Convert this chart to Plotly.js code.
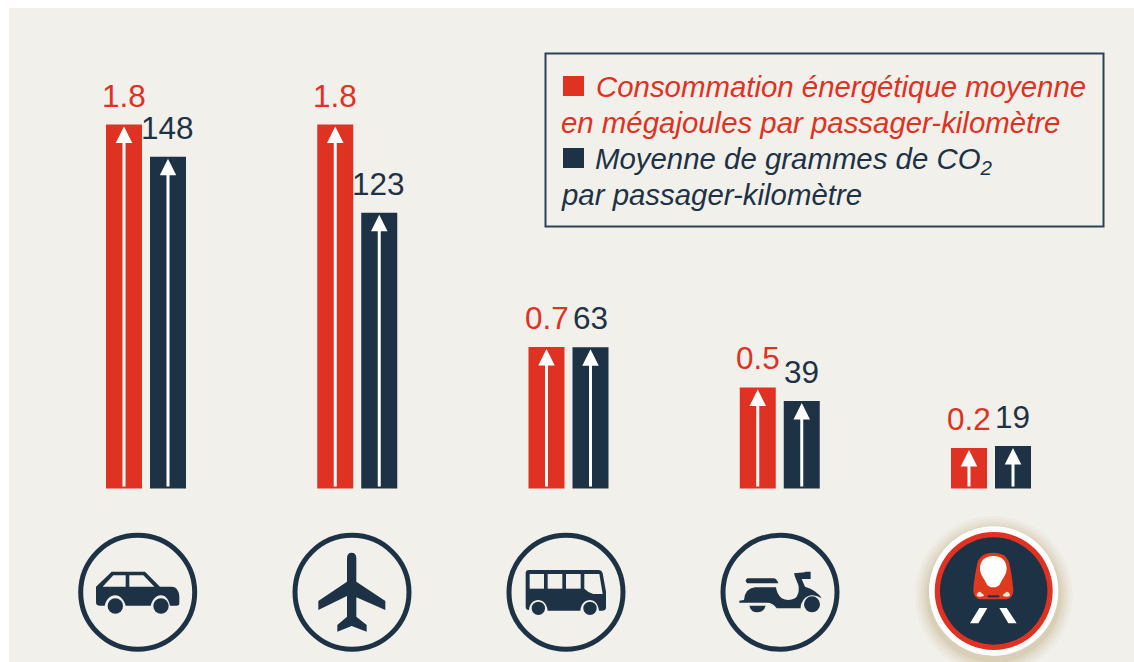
<!DOCTYPE html>
<html>
<head>
<meta charset="utf-8">
<script src="https://cdn.plot.ly/plotly-3.0.1.min.js"></script>
<style>html,body{margin:0;padding:0;background:#fff}#chart{width:1134px;height:662px}</style>
</head>
<body>
<div id="chart"></div>
<script>
const categories = ['Voiture', 'Avion', 'Bus', 'Scooter', 'Train'];
const energyValues = [1.8, 1.8, 0.7, 0.5, 0.2];
const co2Values = [148, 123, 63, 39, 19];
const energyLabels = ['1.8', '1.8', '0.7', '0.5', '0.2'];
const co2Labels = ['148', '123', '63', '39', '19'];
const legendLines = [
  {text: '<i>Consommation énergétique moyenne</i>', px: 594, py: 87, c: 'red'},
  {text: '<i>en mégajoules par passager-kilomètre</i>', px: 559, py: 123, c: 'red'},
  {text: '<i>Moyenne de grammes de CO<sub>2</sub></i>', px: 593, py: 160, c: 'navy'},
  {text: '<i>par passager-kilomètre</i>', px: 559, py: 194, c: 'navy'}
];

const RED = '#DF3222', NAVY = '#1E3246', BG = '#F2F0EB', W = 1134, H = 662;
const COL = {red: RED, navy: NAVY};
const FONT = '"Liberation Sans", Arial, sans-serif';
const baseY = 488.5, pxPerMJ = 202.2, pxPerG = 2.242;
const x0 = 146, step = 211.25;
const barW = 36 / step;

const fx = p => p / W, fy = p => 1 - p / H;
// icon paths are written in a local space, scaled by 1/3 around an origin, then converted to paper units
function pth(ox, oy, d) {
  let i = 0;
  return d.replace(/-?\d+(\.\d+)?/g, m => {
    const v = parseFloat(m) / 3;
    const r = (i++ % 2 === 0) ? fx(ox + v) : fy(oy + v);
    return r.toFixed(6);
  });
}
const icon = (ox, oy, d, fill) => ({type: 'path', xref: 'paper', yref: 'paper', path: pth(ox, oy, d), fillcolor: fill, line: {width: 0}});
const circ = (cx, cy, r, fill, line, lw, opacity, layer) => ({
  type: 'circle', xref: 'paper', yref: 'paper', x0: fx(cx - r), x1: fx(cx + r), y0: fy(cy + r), y1: fy(cy - r),
  fillcolor: fill, line: {color: line || 'rgba(0,0,0,0)', width: lw || 0}, opacity: opacity == null ? 1 : opacity, layer: layer || 'above'
});
const box = (px0, py0, px1, py1, fill, line, lw, layer) => ({
  type: 'rect', xref: 'paper', yref: 'paper', x0: fx(px0), x1: fx(px1), y0: fy(py1), y1: fy(py0),
  fillcolor: fill, line: {color: line || 'rgba(0,0,0,0)', width: lw || 0}, layer: layer || 'above'
});

const shapes = [box(9, 8, W, H, BG, null, 0, 'below')];
// legend
shapes.push(box(545.5, 53.5, 1103.5, 226.5, 'rgba(0,0,0,0)', '#2A4257', 2));
shapes.push(box(563, 76, 584, 96, RED));
shapes.push(box(563, 148, 584, 168, NAVY));

// car
shapes.push(circ(137.7, 592.3, 57, 'rgba(0,0,0,0)', NAVY, 5));
shapes.push(icon(60, 520, 'M108,200 L155,155 L255,155 L300,200 L335,200 C350,200 358,215 358,230 L358,250 Q358,257 350,257 L330,257 C325,235 315,226 302,226 C288,226 277,240 272,257 L197,257 C192,240 180,226 166,226 C150,226 138,240 134,257 L118,257 Q108,257 108,247 Z', NAVY));
shapes.push(icon(60, 520, 'M128,200 L160,166 L197,166 L197,200 Z', BG));
shapes.push(icon(60, 520, 'M208,166 L250,166 L283,200 L208,200 Z', BG));
shapes.push(circ(60 + 166 / 3, 520 + 258 / 3, 7.7, NAVY));
shapes.push(circ(60 + 303 / 3, 520 + 258 / 3, 7.7, NAVY));
// plane
shapes.push(circ(352, 592.3, 57, 'rgba(0,0,0,0)', NAVY, 5));
shapes.push(icon(60, 520, 'M861,115 Q861,98 875,98 Q889,98 889,115 L889,185 L976,243 L976,270 L889,232 L889,290 L920,315 L920,335 L875,318 L832,335 L832,315 L861,290 L861,228 L775,270 L775,243 L861,185 Z', NAVY));
// bus
shapes.push(circ(566, 592.3, 57, 'rgba(0,0,0,0)', NAVY, 5));
shapes.push(icon(490, 520, 'M107,160 Q107,150 117,150 L325,150 Q335,150 338,160 L348,215 L348,262 Q348,272 338,272 L327,272 C325,252 313,240 300,240 C285,240 273,252 271,272 L173,272 C171,252 158,240 145,240 C130,240 118,252 117,270 Q107,270 107,260 Z', NAVY));
shapes.push(icon(490, 520, 'M119,162 L162,162 L162,206 L119,206 Z', BG));
shapes.push(icon(490, 520, 'M173,162 L217,162 L217,206 L173,206 Z', BG));
shapes.push(icon(490, 520, 'M228,162 L272,162 L272,206 L228,206 Z', BG));
shapes.push(icon(490, 520, 'M283,162 L328,162 L338,222 L310,222 Q295,218 283,206 Z', BG));
shapes.push(circ(490 + 145 / 3, 520 + 265 / 3, 6.7, NAVY));
shapes.push(circ(490 + 300 / 3, 520 + 265 / 3, 6.7, NAVY));
// scooter
shapes.push(circ(780, 592.3, 57, 'rgba(0,0,0,0)', NAVY, 5));
shapes.push(icon(490, 520, 'M772,175 L850,175 Q860,175 865,190 L772,190 Q762,182 772,175 Z', NAVY));
shapes.push(icon(490, 520, 'M762,240 Q765,205 795,202 L858,202 Q860,222 875,235 Q895,245 915,235 Q930,222 925,195 L915,170 L912,160 L945,157 L945,155 L962,155 L962,177 L935,177 L945,200 Q980,210 995,235 Q960,215 940,240 Q930,255 932,265 L860,265 Q850,248 830,248 L748,248 L748,242 Z', NAVY));
shapes.push(icon(490, 520, 'M778,257 L827,257 Q822,277 802,277 Q783,277 778,257 Z', NAVY));
shapes.push(circ(490 + 966 / 3, 520 + 253 / 3, 8, NAVY));
// train badge with soft glow
[[79, .10], [76, .14], [73, .18], [70, .26], [67.5, .36]].forEach(g => shapes.push(circ(993.7, 595, g[0], '#CFC3A3', null, 0, g[1], 'below')));
shapes.push(circ(993.7, 591, 64.7, '#FFFFFF'));
shapes.push(circ(993.7, 591, 59, RED));
shapes.push(circ(993.7, 591, 53.7, NAVY));
shapes.push(icon(960, 540, 'M40,150 C42,120 48,90 52,70 C58,48 75,38 100,38 C125,38 142,48 148,70 C152,90 158,120 160,150 C160,168 150,178 135,178 L65,178 C50,178 40,168 40,150 Z', '#E03A1E'));
shapes.push(icon(960, 540, 'M60,85 C60,60 78,48 100,48 C122,48 140,60 140,85 C140,105 128,115 122,128 C118,138 110,142 100,142 C90,142 82,138 78,128 C72,115 60,105 60,85 Z', '#FFFFFF'));
shapes.push(icon(960, 540, 'M50,165 Q53,155 60,155 L72,165 Q72,170 60,170 Q50,170 50,165 Z', '#FBE3D8'));
shapes.push(icon(960, 540, 'M150,165 Q147,155 140,155 L128,165 Q128,170 140,170 Q150,170 150,165 Z', '#FBE3D8'));
shapes.push(icon(960, 540, 'M83,166 L118,166 L118,172 L83,172 Z', NAVY));
shapes.push(icon(960, 540, 'M58,204 L82,204 L55,250 L30,250 Z', '#FFFFFF'));
shapes.push(icon(960, 540, 'M118,204 L140,204 L170,250 L145,250 Z', '#FFFFFF'));

const annotations = [];
const addSeries = (vals, labels, yref, shift, color, lblShift) => {
  vals.forEach((v, i) => {
    annotations.push({
      x: categories[i], xref: 'x', y: v, yref: yref, axref: 'pixel', ax: 0, ayref: yref, ay: 0,
      xshift: shift, showarrow: true, arrowhead: 2, arrowsize: 1.1, arrowwidth: 3, arrowcolor: '#FFFFFF',
      standoff: 2, font: {size: 1}, text: ' '
    });
    annotations.push({
      x: categories[i], xref: 'x', y: v, yref: yref, xshift: lblShift, yshift: 9, showarrow: false,
      xanchor: 'center', yanchor: 'bottom', text: labels[i], font: {family: FONT, size: 31.5, color: color}
    });
  });
};
addSeries(energyValues, energyLabels, 'y', -22, RED, -22);
addSeries(co2Values, co2Labels, 'y2', 22, NAVY, 21.5);
legendLines.forEach(l => annotations.push({
  xref: 'paper', yref: 'paper', x: fx(l.px), y: fy(l.py), xanchor: 'left', yanchor: 'middle', showarrow: false,
  text: l.text, font: {family: FONT, size: 29.4, color: COL[l.c]}
}));

const trace = (name, y, yaxis, color, offsetPx) => ({
  type: 'bar', name: name, x: categories, y: y, yaxis: yaxis, xaxis: 'x',
  width: barW, offset: offsetPx / step, marker: {color: color, line: {width: 0}}, hoverinfo: 'skip'
});

const data = [
  trace('Consommation énergétique moyenne en mégajoules par passager-kilomètre', energyValues, 'y', RED, -40),
  trace('Moyenne de grammes de CO2 par passager-kilomètre', co2Values, 'y2', NAVY, 4)
];

const layout = {
  width: W, height: H, margin: {l: 0, r: 0, t: 0, b: 0, pad: 0}, showlegend: false,
  paper_bgcolor: '#FFFFFF', plot_bgcolor: 'rgba(0,0,0,0)', font: {family: FONT},
  xaxis: {type: 'category', categoryorder: 'array', categoryarray: categories, visible: false, fixedrange: true,
          range: [(0 - x0) / step, (W - x0) / step]},
  yaxis: {visible: false, fixedrange: true, zeroline: false, showgrid: false,
          range: [(baseY - H) / pxPerMJ, baseY / pxPerMJ]},
  yaxis2: {visible: false, fixedrange: true, zeroline: false, showgrid: false, overlaying: 'y',
           range: [(baseY - H) / pxPerG, baseY / pxPerG]},
  shapes: shapes, annotations: annotations
};
Plotly.newPlot('chart', data, layout, {displayModeBar: false, staticPlot: true});
</script>
</body>
</html>
